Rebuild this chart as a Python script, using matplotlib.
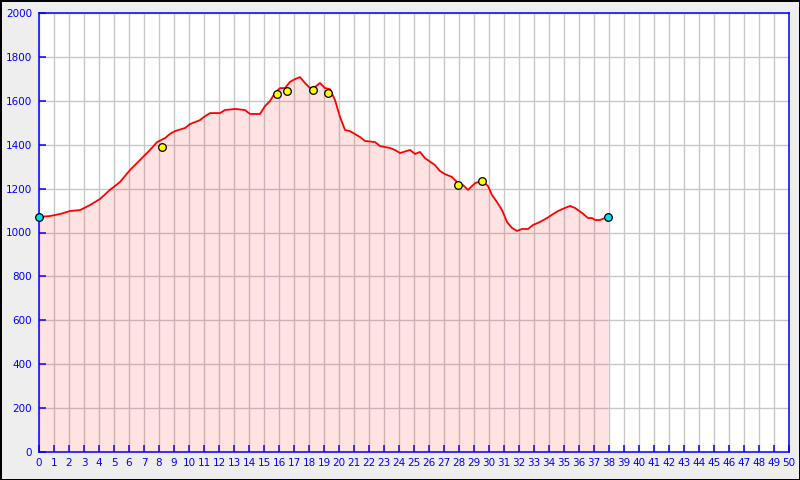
import numpy as np
import matplotlib.pyplot as plt

# Perfil de altitud (km, m)
dist_km = [0, 0.73, 1.4, 2.07, 2.73, 3.4, 4.07, 4.73, 5.4, 6.07, 6.73, 7.4, 7.87,
           8.4, 8.73, 9.07, 9.73, 10.07, 10.73, 11.07, 11.4, 12.07, 12.4, 13.07,
           13.73, 14.07, 14.73, 15.07, 15.4, 15.73, 16.07, 16.4, 16.73, 17.07,
           17.4, 17.73, 18.07, 18.4, 18.73, 19.07, 19.4, 19.73, 20.07, 20.4,
           20.73, 21.4, 21.73, 22.4, 22.73, 23.4, 23.73, 24.07, 24.73, 25.07,
           25.4, 25.73, 26.4, 26.73, 27.07, 27.53, 27.93, 28.27, 28.6, 29.07,
           29.53, 29.93, 30.2, 30.53, 30.87, 31.2, 31.53, 31.87, 32.2, 32.6,
           32.93, 33.4, 33.87, 34.27, 34.6, 35.07, 35.4, 35.73, 36.2, 36.6,
           36.87, 37.07, 37.4, 37.93]
elev_m = [1071, 1075, 1084, 1098, 1102, 1125, 1153, 1194, 1230, 1285, 1330, 1376,
          1412, 1430, 1449, 1462, 1476, 1494, 1512, 1530, 1544, 1544, 1558, 1563,
          1558, 1540, 1540, 1576, 1599, 1636, 1658, 1658, 1686, 1699, 1708, 1681,
          1658, 1663, 1681, 1658, 1653, 1604, 1526, 1467, 1462, 1435, 1417, 1412,
          1394, 1385, 1376, 1362, 1376, 1358, 1367, 1339, 1307, 1280, 1266, 1253,
          1225, 1216, 1194, 1225, 1235, 1212, 1171, 1139, 1102, 1048, 1021, 1007,
          1016, 1016, 1034, 1048, 1066, 1084, 1098, 1112, 1121, 1112, 1089, 1066,
          1066, 1057, 1057, 1071]

# Puntos destacados
wp_km = [8.2, 15.87, 16.53, 18.27, 19.27, 27.93, 29.53]
wp_m = [1390, 1631, 1645, 1649, 1636, 1216, 1235]
ends_km = [0, 37.93]
ends_m = [1071, 1071]

BLUE = "#0000ff"

fig = plt.figure(figsize=(8, 4.8), dpi=100)
fig.patch.set_facecolor("#eeeeee")
fig.patch.set_edgecolor("black")
fig.patch.set_linewidth(1.0)

ax = fig.add_axes([39 / 800, 1 - 452 / 480, 750 / 800, 439 / 480])
ax.set_facecolor("white")
ax.set_xlim(0, 50)
ax.set_ylim(0, 2000)
ax.set_xticks(range(0, 51))
ax.set_yticks(range(0, 2001, 200))
ax.grid(True, color="#c8c8c8", linewidth=1)
ax.set_axisbelow(True)

ax.fill_between(dist_km, elev_m, 0, color="red", alpha=0.11, linewidth=0, zorder=2)
ax.plot(dist_km, elev_m, color="red", linewidth=1.3, zorder=3)
ax.plot(wp_km, wp_m, "o", color="yellow", markeredgecolor="black",
        markersize=5.5, markeredgewidth=0.9, zorder=4)
ax.plot(ends_km, ends_m, "o", color="#00e0f0", markeredgecolor="black",
        markersize=5.5, markeredgewidth=0.9, zorder=4, clip_on=False)

for s in ax.spines.values():
    s.set_color(BLUE)
    s.set_linewidth(1.1)
ax.tick_params(direction="in", length=5, width=1.1, color=BLUE,
               labelcolor=BLUE, labelsize=7.5, pad=4.5)
ax.tick_params(axis="y", pad=5)

fig.savefig("out.png", dpi=100, facecolor=fig.get_facecolor(), edgecolor=fig.get_edgecolor())
